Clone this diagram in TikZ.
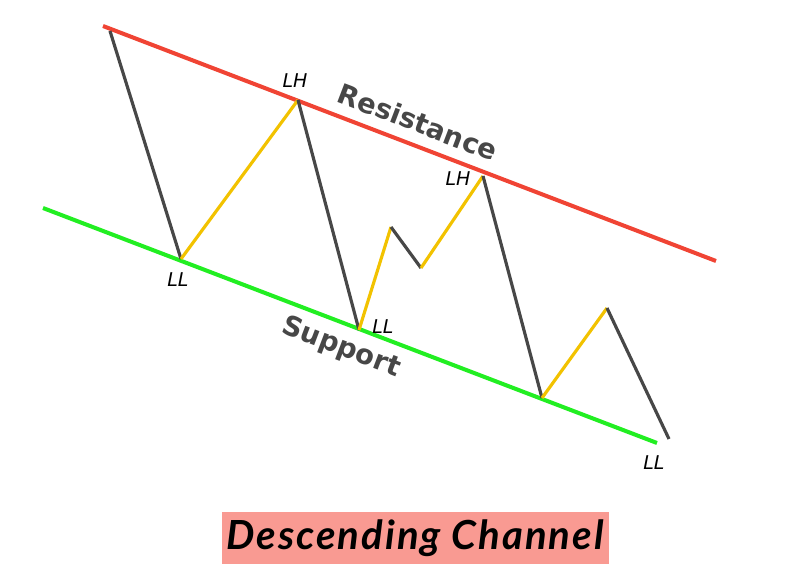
\documentclass[tikz,border=0pt]{standalone}
\usepackage{fontspec}
\setmainfont{DejaVu Sans}
\newfontfamily\titlefont[LetterSpace=5]{Lato}
\definecolor{resred}{HTML}{F04434}
\definecolor{supgreen}{HTML}{22EE22}
\definecolor{upyellow}{HTML}{F2C200}
\definecolor{downgray}{HTML}{474747}
\definecolor{titlebg}{HTML}{F99A92}
\tikzset{
  upleg/.style={upyellow, line width=0.9pt},
  downleg/.style={downgray, line width=0.9pt},
  swing/.style={font=\fontsize{5.4}{6}\selectfont\itshape},
  channame/.style={font=\fontsize{7.8}{9}\selectfont\bfseries, text=downgray, rotate=-20.9}
}
\begin{document}
\begin{tikzpicture}[x=0.01cm, y=-0.01cm]
\useasboundingbox (0,0) rectangle (796,585);

% channel lines
\coordinate (r1) at (103,26);
\coordinate (r2) at (716,261);
\coordinate (s1) at (43,208);
\coordinate (s2) at (657,443);
\draw [resred, line width=1.15pt] (r1) -- (r2);
\draw [supgreen, line width=1.15pt] (s1) -- (s2);

% price swings
\coordinate (p0) at (110,31);
\coordinate (p1) at (181,259);
\coordinate (p2) at (298,100);
\coordinate (p3) at (359,330);
\coordinate (p4) at (391,227);
\coordinate (p5) at (421,268);
\coordinate (p6) at (483,176);
\coordinate (p7) at (542,398);
\coordinate (p8) at (607,308);
\coordinate (p9) at (669,439);
\draw [downleg] (p0) -- (p1);
\draw [upleg] (p1) -- (p2);
\draw [downleg] (p2) -- (p3);
\draw [upleg] (p3) -- (p4);
\draw [downleg] (p4) -- (p5);
\draw [upleg] (p5) -- (p6);
\draw [downleg] (p6) -- (p7);
\draw [upleg] (p7) -- (p8);
\draw [downleg] (p8) -- (p9);

% swing labels
\node [swing] (lh1) at (295,81) {LH};
\node [swing] (lh2) at (458,179) {LH};
\node [swing] (ll1) at (178,280) {LL};
\node [swing] (ll2) at (383,327) {LL};
\node [swing] (ll3) at (654,463) {LL};

\node [channame] (res) at (418,122) {Resistance};
\node [channame] (sup) at (341,348) {Support};

% title
\fill [titlebg] (222,512) rectangle (609,564);
\node [font=\titlefont\fontsize{11.4}{13}\selectfont\bfseries\itshape] (title) at (415,538) {Descending Channel};
\end{tikzpicture}
\end{document}
